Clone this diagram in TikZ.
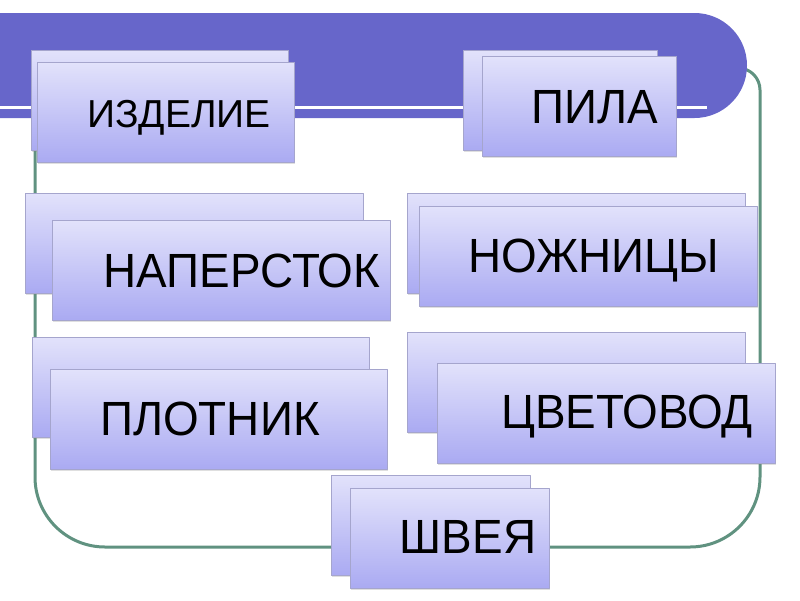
\documentclass[tikz,border=0pt]{standalone}
\usepackage{fontspec}
\setmainfont{Liberation Sans}
\newfontfamily\tallfont[FakeStretch=0.955]{Liberation Sans}
\usetikzlibrary{shadows}
\definecolor{bandblue}{RGB}{103,102,202}
\definecolor{framegreen}{RGB}{96,146,128}
\definecolor{cardtop}{RGB}{226,226,251}
\definecolor{cardbot}{RGB}{170,170,242}
\definecolor{cardedge}{RGB}{165,165,205}

\begin{document}
\begin{tikzpicture}[x=1pt, y=-1pt, line join=round,
  card/.style={draw=cardedge, line width=0.6pt, top color=cardtop, bottom color=cardbot,
    anchor=north west, inner sep=0pt, minimum height=100pt,
    drop shadow={shadow xshift=1pt, shadow yshift=-1.2pt, opacity=0.25}},
  word/.style={anchor=base, inner sep=0pt}]
\useasboundingbox (0,0) rectangle (800,600);
\draw[framegreen, line width=3pt] (742,68) [rounded corners=22pt] -- (760,68) -- (760,300)
  [rounded corners=70pt] -- (760,547) -- (35,547) -- (35,118);
\fill[bandblue] (0,13) -- (694.5,13) arc(-90:90:52.5) -- (0,118) -- cycle;
\draw[white, line width=3pt] (0,107) -- (707,107);
\foreach \nm/\bx/\by/\fx/\fy/\w/\tx/\ty/\fnt/\txt in {
  izd/31/50/37/62/257/179/127/\fontsize{39}{39}\selectfont/ИЗДЕЛИЕ,
  pila/463/50/482/56/194/595/123/\tallfont\fontsize{48}{48}\selectfont/ПИЛА,
  nap/25/193/52/220/338/242/287/\tallfont\fontsize{48}{48}\selectfont/НАПЕРСТОК,
  nozh/407/193/419/206/338/594/272/\tallfont\fontsize{48}{48}\selectfont/НОЖНИЦЫ,
  plot/32/337/50/369/337/210/435/\tallfont\fontsize{48}{48}\selectfont/ПЛОТНИК,
  cvet/407/332/437/363/338/627/428/\tallfont\fontsize{48}{48}\selectfont/ЦВЕТОВОД,
  shv/331/475/350/488/199/468/553/\tallfont\fontsize{48}{48}\selectfont/ШВЕЯ}{
  \node[card, minimum width=\w pt] (back-\nm) at (\bx,\by) {};
  \node[card, minimum width=\w pt] (front-\nm) at (\fx,\fy) {};
  \node[word, font=\fnt] (word-\nm) at (\tx,\ty) {\txt};
}
\end{tikzpicture}
\end{document}
